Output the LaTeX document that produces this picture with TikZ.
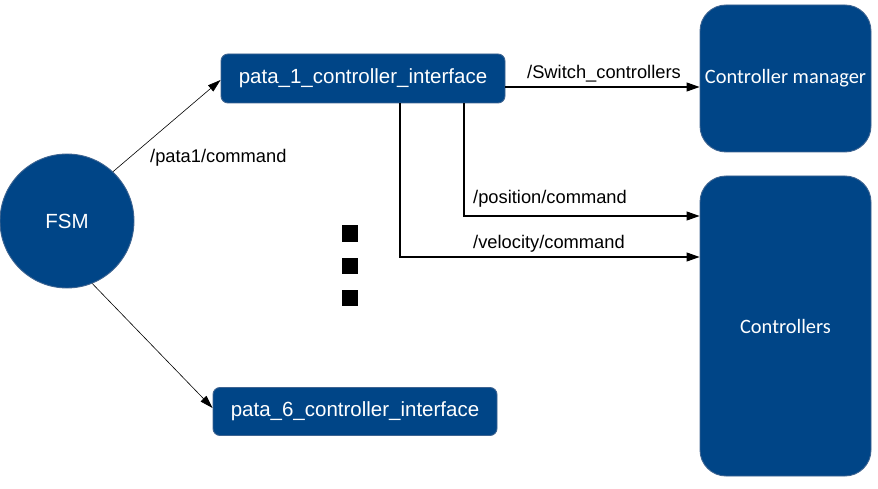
\documentclass[tikz,border=0pt]{standalone}
\usepackage{fontspec}
\setmainfont{Liberation Sans}
\newfontfamily\calib{Carlito}
\usetikzlibrary{arrows.meta}
\definecolor{boxblue}{RGB}{0,69,135}
\definecolor{boxedge}{RGB}{62,100,145}
\tikzset{
  blk/.style={fill=boxblue, draw=boxedge, line width=0.9pt, text=white, inner sep=0pt},
  iface/.style={blk, rounded corners=7pt, minimum width=284pt, minimum height=49pt, font=\fontsize{20.5}{24}\selectfont},
  bigbox/.style={blk, rounded corners=26pt, minimum width=171pt, font=\calib\fontsize{20.4}{24}\selectfont},
  lbl/.style={inner sep=0pt, anchor=base west, font=\fontsize{18.3}{22}\selectfont},
  sq/.style={fill=black, minimum width=15.5pt, minimum height=16pt, inner sep=0pt},
  thinarr/.style={line width=0.6pt, -{Triangle[length=13pt,width=8pt]}},
  arr/.style={line width=1.1pt, -{Triangle[length=13pt,width=9pt]}}
}
\begin{document}
\begin{tikzpicture}[x=1pt, y=-1pt]
\useasboundingbox (0,0) rectangle (878,489);
\node[blk, circle, minimum size=134pt, font=\fontsize{20.5}{24}\selectfont] (fsm) at (67,221) {FSM};
\node[iface] (p1) at (363,78.5) {pata\_1\_controller\_interface};
\node[iface, minimum height=48pt] (p6) at (355,411.5) {pata\_6\_controller\_interface};
\node[bigbox, minimum height=147pt] (cm) at (785.5,78.5) {Controller manager};
\node[bigbox, minimum height=300pt] (ctrl) at (785.5,326) {Controllers};

\node[sq] (d1) at (350,233.5) {};
\node[sq] (d2) at (350,265.5) {};
\node[sq] (d3) at (350,298) {};

\draw[thinarr] (fsm.47) -- ([yshift=-1.5pt]p1.west);
\draw[thinarr] (fsm.-68) -- ([yshift=3.5pt]p6.west);
\draw[arr] ([yshift=-8.5pt]p1.east) -- ([yshift=-8.5pt]cm.west);
\draw[arr] ([xshift=101pt]p1.south) |- ([yshift=110pt]ctrl.west);
\draw[arr] ([xshift=37pt]p1.south) |- ([yshift=69pt]ctrl.west);

\node[lbl] (lp) at (150,163) {/pata1/command};
\node[lbl] (ls) at (527,79) {/Switch\_controllers};
\node[lbl] (lpos) at (473,204) {/position/command};
\node[lbl] (lvel) at (473,248) {/velocity/command};
\end{tikzpicture}
\end{document}
